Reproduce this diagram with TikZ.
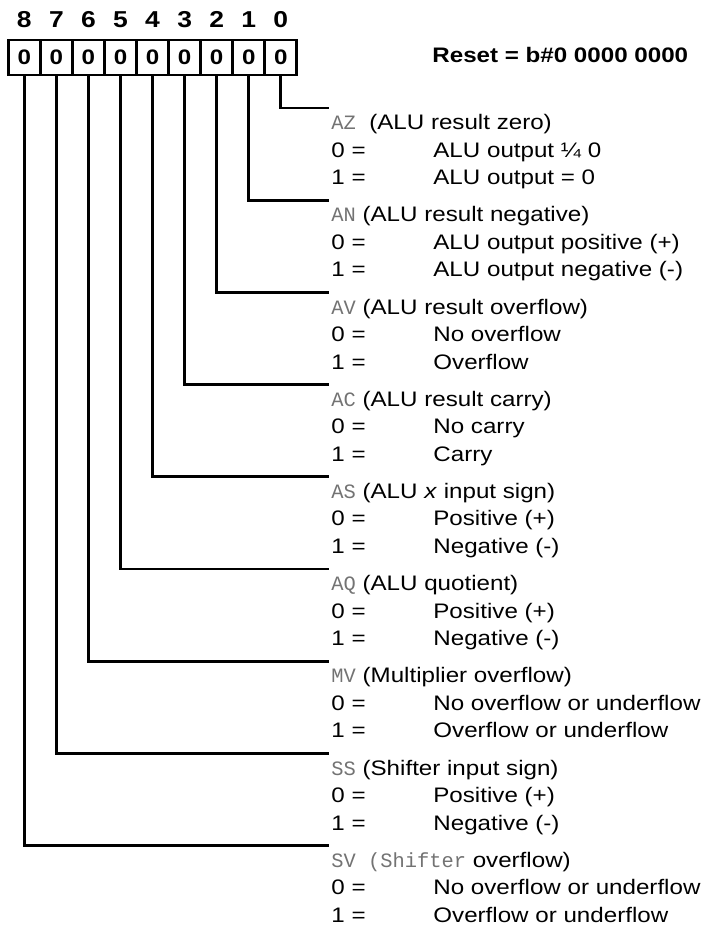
\documentclass[tikz,border=0pt]{standalone}
\usepackage{fontspec}
\setmainfont{Liberation Sans}[FakeStretch=1.15]
\newfontfamily\mnfont{Liberation Mono}
\usetikzlibrary{positioning}

\definecolor{mngray}{gray}{0.45}
\newcommand{\regsize}{\fontsize{10.5}{12.6}\selectfont}
\newcommand{\mn}[1]{{\mnfont\fontsize{10.2}{12}\selectfont\color{mngray}#1}}
\newcommand{\bitkey}[1]{\makebox[51pt][l]{#1 =}}

\tikzset{
  bitcell/.style={rectangle, draw, line width=1.4pt, outer sep=0pt, inner sep=0pt,
                  minimum width=16.03pt, minimum height=17.5pt, font=\regsize\bfseries},
  bitnum/.style={inner sep=0pt, font=\fontsize{11.5}{13}\selectfont\bfseries},
  flagtxt/.style={anchor=base west, inner sep=0pt, font=\regsize},
  bitline/.style={line width=1.4pt},
}

\begin{document}
\begin{tikzpicture}[x=0.5pt, y=-0.5pt]
  \useasboundingbox (0,0) rectangle (709,926);

  % register cells, bit 8 on the left
  \node[bitcell] (c8) at (24.33,57.5) {0};
  \node[bitcell, right=0pt of c8] (c7) {0};
  \node[bitcell, right=0pt of c7] (c6) {0};
  \node[bitcell, right=0pt of c6] (c5) {0};
  \node[bitcell, right=0pt of c5] (c4) {0};
  \node[bitcell, right=0pt of c4] (c3) {0};
  \node[bitcell, right=0pt of c3] (c2) {0};
  \node[bitcell, right=0pt of c2] (c1) {0};
  \node[bitcell, right=0pt of c1] (c0) {0};

  % bit numbers
  \node[bitnum, above=5.85pt of c8] (n8) {8};
  \node[bitnum, above=5.85pt of c7] (n7) {7};
  \node[bitnum, above=5.85pt of c6] (n6) {6};
  \node[bitnum, above=5.85pt of c5] (n5) {5};
  \node[bitnum, above=5.85pt of c4] (n4) {4};
  \node[bitnum, above=5.85pt of c3] (n3) {3};
  \node[bitnum, above=5.85pt of c2] (n2) {2};
  \node[bitnum, above=5.85pt of c1] (n1) {1};
  \node[bitnum, above=5.85pt of c0] (n0) {0};

  \node[flagtxt, font=\regsize\bfseries] (reset) at (432,62.5) {Reset = b\#0 0000 0000};

  % AZ
  \coordinate (az-in) at (329,108);
  \node[flagtxt] (az) at (331,129.6) {\mn{AZ}\ \ (ALU result zero)};
  \node[flagtxt] (az0) at (331,157.1) {\bitkey{0}ALU output ¼ 0};
  \node[flagtxt] (az1) at (331,184.6) {\bitkey{1}ALU output = 0};

  % AN
  \coordinate (an-in) at (329,200.2);
  \node[flagtxt] (an) at (331,221.8) {\mn{AN} (ALU result negative)};
  \node[flagtxt] (an0) at (331,249.3) {\bitkey{0}ALU output positive (+)};
  \node[flagtxt] (an1) at (331,276.8) {\bitkey{1}ALU output negative (-)};

  % AV
  \coordinate (av-in) at (329,292.4);
  \node[flagtxt] (av) at (331,314.0) {\mn{AV} (ALU result overflow)};
  \node[flagtxt] (av0) at (331,341.5) {\bitkey{0}No overflow};
  \node[flagtxt] (av1) at (331,369.0) {\bitkey{1}Overflow};

  % AC
  \coordinate (ac-in) at (329,384.6);
  \node[flagtxt] (ac) at (331,406.2) {\mn{AC} (ALU result carry)};
  \node[flagtxt] (ac0) at (331,433.7) {\bitkey{0}No carry};
  \node[flagtxt] (ac1) at (331,461.2) {\bitkey{1}Carry};

  % AS
  \coordinate (as-in) at (329,476.8);
  \node[flagtxt] (as) at (331,498.4) {\mn{AS} (ALU \textit{x} input sign)};
  \node[flagtxt] (as0) at (331,525.9) {\bitkey{0}Positive (+)};
  \node[flagtxt] (as1) at (331,553.4) {\bitkey{1}Negative (-)};

  % AQ
  \coordinate (aq-in) at (329,569.0);
  \node[flagtxt] (aq) at (331,590.6) {\mn{AQ} (ALU quotient)};
  \node[flagtxt] (aq0) at (331,618.1) {\bitkey{0}Positive (+)};
  \node[flagtxt] (aq1) at (331,645.6) {\bitkey{1}Negative (-)};

  % MV
  \coordinate (mv-in) at (329,661.2);
  \node[flagtxt] (mv) at (331,682.8) {\mn{MV} (Multiplier overflow)};
  \node[flagtxt] (mv0) at (331,710.3) {\bitkey{0}No overflow or underflow};
  \node[flagtxt] (mv1) at (331,737.8) {\bitkey{1}Overflow or underflow};

  % SS
  \coordinate (ss-in) at (329,753.4);
  \node[flagtxt] (ss) at (331,775.0) {\mn{SS} (Shifter input sign)};
  \node[flagtxt] (ss0) at (331,802.5) {\bitkey{0}Positive (+)};
  \node[flagtxt] (ss1) at (331,830.0) {\bitkey{1}Negative (-)};

  % SV
  \coordinate (sv-in) at (329,845.6);
  \node[flagtxt] (sv) at (331,867.2) {\mn{SV (Shifter} overflow)};
  \node[flagtxt] (sv0) at (331,894.7) {\bitkey{0}No overflow or underflow};
  \node[flagtxt] (sv1) at (331,922.2) {\bitkey{1}Overflow or underflow};

  % bit leads
  \draw[bitline] (c0.south) |- (az-in);
  \draw[bitline] (c1.south) |- (an-in);
  \draw[bitline] (c2.south) |- (av-in);
  \draw[bitline] (c3.south) |- (ac-in);
  \draw[bitline] (c4.south) |- (as-in);
  \draw[bitline] (c5.south) |- (aq-in);
  \draw[bitline] (c6.south) |- (mv-in);
  \draw[bitline] (c7.south) |- (ss-in);
  \draw[bitline] (c8.south) |- (sv-in);
\end{tikzpicture}
\end{document}
